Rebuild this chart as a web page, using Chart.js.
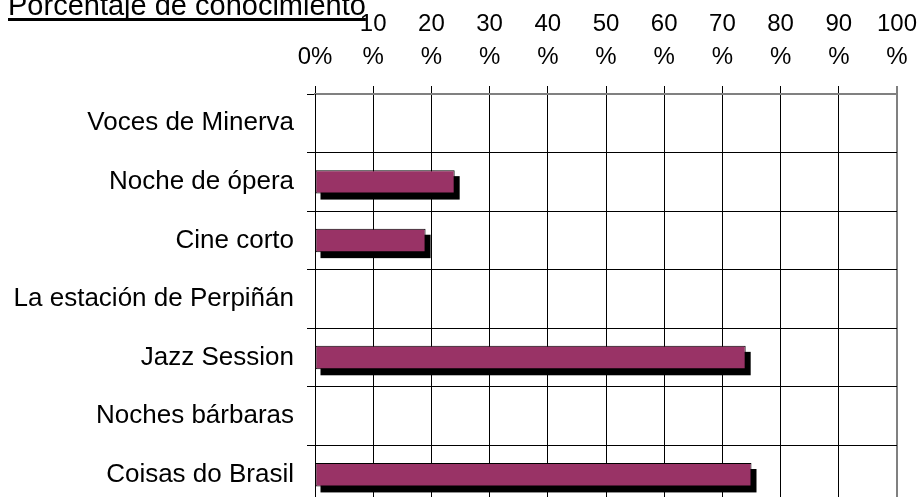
<!DOCTYPE html>
<html>
<head>
<meta charset="utf-8">
<script src="https://cdn.jsdelivr.net/npm/chart.js@4"></script>
<style>
  html, body { margin: 0; padding: 0; overflow: hidden; background: #fff; }
  canvas { display: block; }
</style>
</head>
<body>
<canvas id="barChart" width="923" height="510"></canvas>
<script>
var categories = ['Voces de Minerva', 'Noche de ópera', 'Cine corto', 'La estación de Perpiñán', 'Jazz Session', 'Noches bárbaras', 'Coisas do Brasil'];
var conocimiento = [0, 24, 19, 0, 74, 0, 75];
var tickValues = [0, 10, 20, 30, 40, 50, 60, 70, 80, 90, 100];
var chartTitle = 'Porcentaje de conocimiento';

var FONT = "'Liberation Sans', Arial, sans-serif";

// black drop shadow under the bars, taken from the bar elements
var barShadow = {
    id: 'barShadow',
    beforeDatasetDraw: function (chart, args) {
        var c = chart.ctx;
        var meta = args.meta;
        c.save();
        c.fillStyle = '#000';
        meta.data.forEach(function (bar) {
            var p = bar.getProps(['x', 'y', 'base', 'height'], true);
            var w = p.x - p.base;
            if (w <= 0) return;
            c.fillRect(p.base + 5, p.y - p.height / 2 + 6, w, p.height);
        });
        c.restore();
    }
};

// underlined title in the top-left corner
var underlinedTitle = {
    id: 'underlinedTitle',
    afterDraw: function (chart) {
        var c = chart.ctx;
        c.save();
        c.font = '29px ' + FONT;
        c.fillStyle = '#000';
        c.textBaseline = 'alphabetic';
        c.textAlign = 'left';
        c.fillText(chartTitle, 8, 15);
        var w = c.measureText(chartTitle).width;
        c.fillRect(8, 18, w, 3);
        c.restore();
    }
};

// let the layout padding alone decide where the plot ends
function noScalePadding(scale) {
    scale.paddingTop = 0;
    scale.paddingBottom = 0;
    scale.paddingLeft = 0;
    scale.paddingRight = 0;
}

var ctx = document.getElementById('barChart').getContext('2d');
var myChart = new Chart(ctx, {
    type: 'bar',
    data: {
        labels: categories,
        datasets: [{
            label: 'Porcentaje de conocimiento',
            data: conocimiento,
            backgroundColor: '#993366',
            borderColor: '#000',
            borderWidth: 1,
            borderSkipped: false,
            barPercentage: 0.4,
            categoryPercentage: 1
        }]
    },
    options: {
        indexAxis: 'y',
        responsive: false,
        animation: false,
        layout: { padding: { left: 0, right: 26, top: 0, bottom: 6 } },
        plugins: {
            legend: { display: false },
            tooltip: { enabled: false }
        },
        scales: {
            x: {
                position: 'top',
                min: 0,
                max: 100,
                afterBuildTicks: function (scale) {
                    scale.ticks = tickValues.map(function (v) { return { value: v }; });
                },
                afterFit: function (scale) { scale.height = 94; noScalePadding(scale); },
                ticks: {
                    color: '#000',
                    padding: 12,
                    maxRotation: 0,
                    autoSkip: false,
                    font: { family: FONT, size: 24, lineHeight: 1.375 },
                    callback: function (v) { return v === 0 ? '0%' : [String(v), '%']; }
                },
                grid: {
                    color: function (c) { return c.index === 10 ? '#808080' : '#000'; },
                    lineWidth: function (c) { return c.index === 10 ? 2 : 1; },
                    tickLength: 8
                },
                border: { color: '#808080', width: 2 }
            },
            y: {
                afterFit: function (scale) { scale.width = 315; noScalePadding(scale); },
                ticks: {
                    color: '#000',
                    padding: 13,
                    font: { family: FONT, size: 26 }
                },
                grid: {
                    color: '#000',
                    lineWidth: 1,
                    tickLength: 8,
                    offset: true
                },
                border: { color: '#000', width: 1 }
            }
        }
    },
    plugins: [barShadow, underlinedTitle]
});
</script>
</body>
</html>
